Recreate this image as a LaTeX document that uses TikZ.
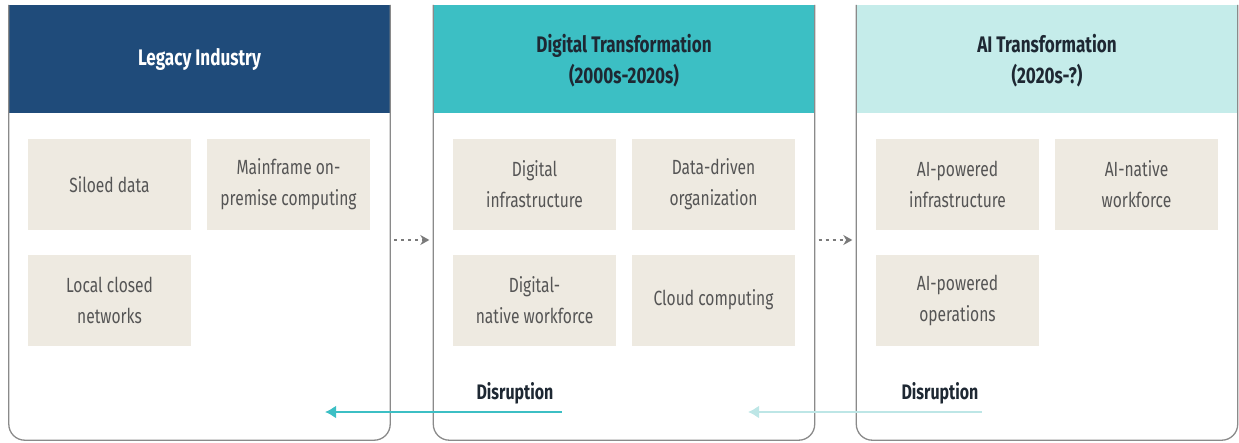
\documentclass[tikz,border=0pt]{standalone}
\usepackage{fontspec}
\setmainfont{Fira Sans}[FakeStretch=0.76]
\usetikzlibrary{calc,arrows.meta}

\definecolor{navy}{HTML}{1F4B7A}
\definecolor{tealhead}{HTML}{3CBFC4}
\definecolor{palehead}{HTML}{C5ECEA}
\definecolor{beige}{HTML}{EEEAE1}
\definecolor{boxtext}{HTML}{555555}
\definecolor{frame}{HTML}{8A8A8A}
\definecolor{ink}{HTML}{1E2833}
\definecolor{dotgray}{HTML}{7A7A7A}
\definecolor{palearrow}{HTML}{BDE6E6}

\tikzset{
  panelspace/.style={minimum width=381pt, minimum height=435pt, inner sep=0pt},
  outline/.style={draw=frame, line width=1.3pt, rounded corners=16pt},
  card/.style={fill=beige, minimum width=163pt, minimum height=91pt, inner sep=0pt,
    text=boxtext, align=center, font=\fontsize{20.5}{31}\selectfont},
  headtext/.style={align=center, font=\bfseries\fontsize{22.5}{31}\selectfont},
  dis/.style={text=ink, inner sep=0pt, font=\bfseries\fontsize{21}{24}\selectfont},
  flow/.style={draw=dotgray, line width=1.4pt, dash pattern=on 3pt off 4pt,
    -{Stealth[length=9pt,width=10pt]}},
  disrupt/.style={line width=2pt, -{Latex[length=11pt,width=13pt]}},
}

\begin{document}
\begin{tikzpicture}[x=1pt,y=-1pt]
  \useasboundingbox (0,0) rectangle (1239,442);

  % three era panels
  \node[panelspace] (p1) at (199.5,222.5) {};
  \node[panelspace] (p2) at (624,222.5) {};
  \node[panelspace] (p3) at (1047,222.5) {};

  \fill[navy] (p1.north west) rectangle ($(p1.north east)+(0,108)$);
  \fill[tealhead] (p2.north west) rectangle ($(p2.north east)+(0,108)$);
  \fill[palehead] (p3.north west) rectangle ($(p3.north east)+(0,108)$);

  \foreach \p in {p1,p2,p3}
    \draw[outline] (\p.north west) -- (\p.south west) -- (\p.south east) -- (\p.north east);

  \node[headtext, text=white] (h1) at ($(p1.north)+(0,55)$) {Legacy Industry};
  \node[headtext, text=ink] (h2) at ($(p2.north)+(0,56)$) {Digital Transformation\\(2000s-2020s)};
  \node[headtext, text=ink] (h3) at ($(p3.north)+(0,56)$) {AI Transformation\\(2020s-?)};

  % characteristics of each era
  \node[card] (c11) at (109.5,184.5) {Siloed data};
  \node[card] (c12) at (288.5,184.5) {Mainframe on-\\premise computing};
  \node[card] (c13) at (109.5,300) {Local closed\\networks};

  \node[card] (c21) at (534.5,184.5) {Digital\\infrastructure};
  \node[card] (c22) at (713.5,184.5) {Data-driven\\organization};
  \node[card] (c23) at (534.5,300) {Digital-\\native workforce};
  \node[card] (c24) at (713.5,300) {Cloud computing};

  \node[card] (c31) at (957.5,184.5) {AI-powered\\infrastructure};
  \node[card] (c32) at (1136.5,184.5) {AI-native\\workforce};
  \node[card] (c33) at (957.5,300) {AI-powered\\operations};

  % progression between eras
  \draw[flow] ($(p1.east)+(4,17.5)$) -- ($(p2.west)+(-4,17.5)$);
  \draw[flow] ($(p2.east)+(4,17.5)$) -- ($(p3.west)+(-4,17.5)$);

  % disruption of the previous era
  \node[dis] (d2) at (515,393) {Disruption};
  \node[dis] (d3) at (940,393) {Disruption};
  \coordinate (hit1) at (325,412);
  \coordinate (hit2) at (748,412);
  \draw[disrupt, tealhead] ($(d2.east)+(8,19)$) -- (hit1);
  \draw[disrupt, palearrow] ($(d3.east)+(3,19)$) -- (hit2);
\end{tikzpicture}
\end{document}
